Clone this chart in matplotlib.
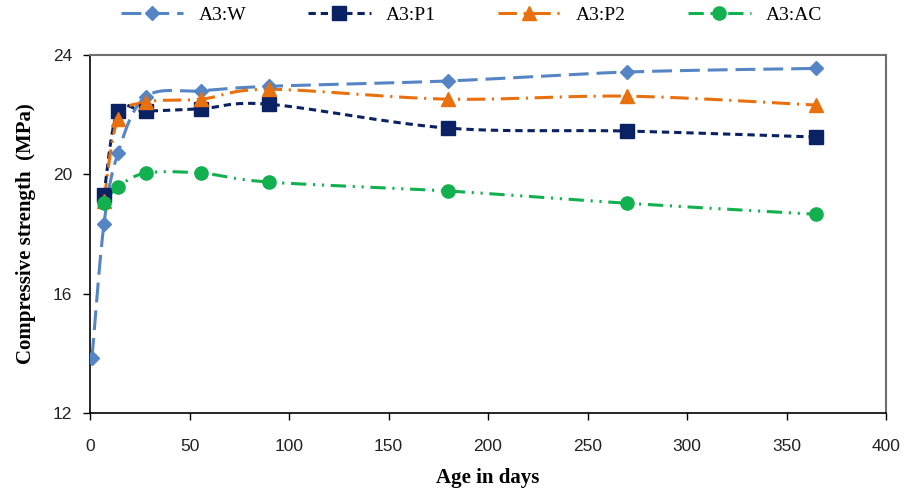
import numpy as np
import matplotlib
matplotlib.use('Agg')
import matplotlib.pyplot as plt
from matplotlib.lines import Line2D

# data
days_w = [1, 7, 14, 28, 56, 90, 180, 270, 365]
w = [13.85, 18.33, 20.7, 22.6, 22.8, 22.95, 23.13, 23.43, 23.55]

days = [7, 14, 28, 56, 90, 180, 270, 365]
p1 = [19.3, 22.12, 22.12, 22.2, 22.35, 21.55, 21.45, 21.25]
p2 = [19.1, 21.85, 22.42, 22.52, 22.85, 22.52, 22.62, 22.32]
ac = [19.05, 19.57, 20.04, 20.04, 19.74, 19.44, 19.03, 18.66]

labels = ['A3:W', 'A3:P1', 'A3:P2', 'A3:AC']
colors = ['#5585C5', '#0A2263', '#E8700F', '#12B04F']
markers = ['D', 's', '^', 'o']
msizes = [7, 9.5, 9.5, 9.5]
styles = [(0, (6.5, 2.6)), (0, (2.4, 1.6)), (0, (6, 2.2, 0.7, 2.2)),
          (0, (5, 2.2, 0.7, 2.2, 0.7, 2.2))]


def smooth(ax, x, y, n=30):
    # excel-like bezier smoothing, done in screen space
    pts = ax.transData.transform(np.column_stack([x, y]))
    P = np.vstack([pts[0], pts, pts[-1]])
    out = []
    for i in range(1, len(P) - 2):
        p0, p1_, p2_, p3 = P[i - 1], P[i], P[i + 1], P[i + 2]
        c1 = p1_ + (p2_ - p0) / 6
        c2 = p2_ - (p3 - p1_) / 6
        t = np.linspace(0, 1, n)[:, None]
        seg = ((1 - t) ** 3 * p1_ + 3 * (1 - t) ** 2 * t * c1
               + 3 * (1 - t) * t ** 2 * c2 + t ** 3 * p2_)
        out.append(seg if i == 1 else seg[1:])
    out = np.vstack(out)
    d = ax.transData.inverted().transform(out)
    return d[:, 0], d[:, 1]


fig = plt.figure(figsize=(9.07, 4.93), dpi=100)
W, H = 907, 493
ax = fig.add_axes([90 / W, 1 - 413 / H, 796 / W, 358 / H])
ax.set_xlim(0, 400)
ax.set_ylim(12, 24)

series = [(days_w, w), (days, p1), (days, p2), (days, ac)]
handles = []
for (x, y), lab, c, m, ms, ls in zip(series, labels, colors, markers, msizes, styles):
    sx, sy = smooth(ax, x, y)
    ax.plot(sx, sy, color=c, lw=2.2, ls=ls, zorder=2)
    ax.plot(x, y, ls='none', marker=m, ms=ms, color=c, mec=c, zorder=3)
    handles.append(Line2D([], [], color=c, lw=2.2, ls=ls, marker=m, ms=ms, mec=c))

ax.set_xticks(np.arange(0, 401, 50))
ax.set_yticks([12, 16, 20, 24])
ax.tick_params(direction='out', length=5, width=1, labelsize=12.5)
for lab in ax.get_xticklabels() + ax.get_yticklabels():
    lab.set_family('Liberation Sans')
    lab.set_color('#222222')
ax.tick_params(axis='x', pad=14)
ax.tick_params(axis='y', pad=8)

for s in ['left', 'bottom']:
    ax.spines[s].set_color('black')
    ax.spines[s].set_linewidth(1.2)
for s in ['top', 'right']:
    ax.spines[s].set_color('#6e6e6e')
    ax.spines[s].set_linewidth(1.5)

ax.set_xlabel('Age in days', family='Liberation Serif', fontweight='bold', fontsize=15, labelpad=10)
ax.set_ylabel('Compressive strength  (MPa)', family='Liberation Serif', fontweight='bold',
              fontsize=15, labelpad=12)

fig.legend(handles=handles, labels=labels, loc='center', bbox_to_anchor=(0.52, 1 - 15 / H),
           ncol=4, frameon=False, handlelength=3.2, columnspacing=3.2,
           prop={'family': 'Liberation Serif', 'size': 14})

fig.savefig('out.png', dpi=100)
